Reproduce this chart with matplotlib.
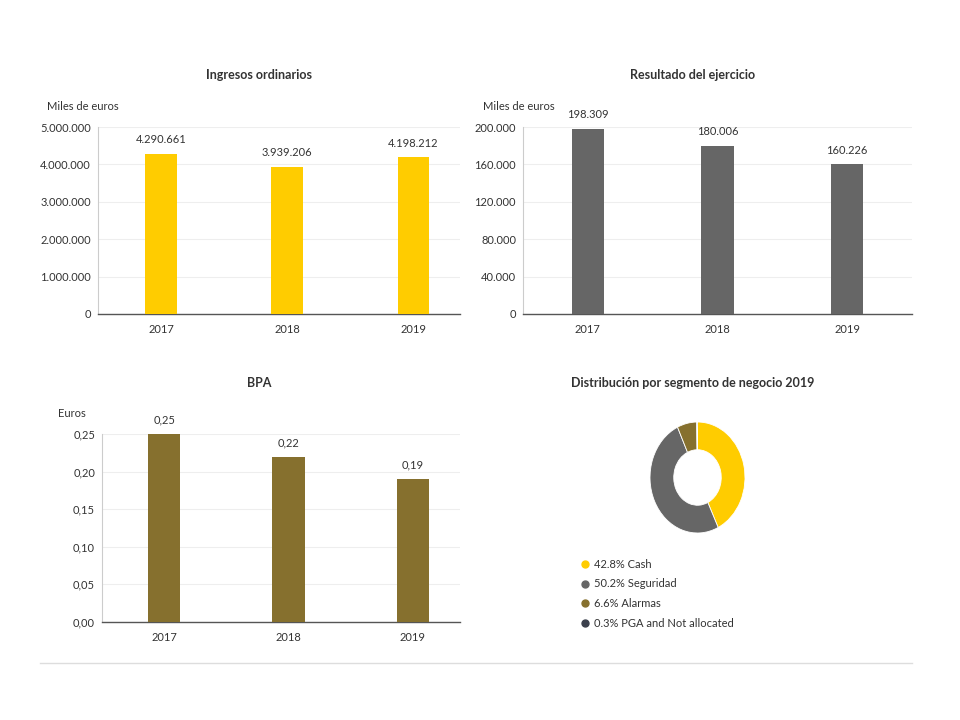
import matplotlib.pyplot as plt
import numpy as np

plt.rcParams['font.family'] = ['Lato', 'DejaVu Sans']

years = ['2017', '2018', '2019']
ingresos = [4290661, 3939206, 4198212]
resultado = [198309, 180006, 160226]
bpa = [0.25, 0.22, 0.19]

seg_names = ['Cash', 'Seguridad', 'Alarmas', 'PGA and Not allocated']
seg_share = [42.8, 50.2, 6.6, 0.3]

yellow = '#ffcc00'
grey = '#666666'
olive = '#86702e'
dark = '#3b404c'
txt = '#333333'

W, H = 960, 720
fig = plt.figure(figsize=(9.6, 7.2), dpi=100)


def px_axes(x0, y0, x1, y1):
    # pixel box (top-left origin) -> figure axes
    return fig.add_axes([x0 / W, 1 - y1 / H, (x1 - x0) / W, (y1 - y0) / H])


def fmt_thousands(v):
    return f'{int(round(v)):,}'.replace(',', '.')


def bar_panel(box, values, color, ticks, xlim, labels, tick_fmt, width):
    ax = px_axes(*box)
    x = np.arange(len(values))
    ax.bar(x, values, width=width, color=color, zorder=3)
    ax.set_xlim(*xlim)
    ax.set_ylim(ticks[0], ticks[-1])
    ax.set_yticks(ticks)
    ax.set_yticklabels([tick_fmt(t) for t in ticks])
    ax.set_xticks(x)
    ax.set_xticklabels(years)
    ax.tick_params(length=0, labelsize=8, colors=txt, pad=7)
    ax.tick_params(axis='y', pad=5)
    ax.grid(axis='y', color='#eeeeee', linewidth=0.8, zorder=0)
    for s in ['top', 'right']:
        ax.spines[s].set_visible(False)
    ax.spines['left'].set_color('#cccccc')
    ax.spines['left'].set_linewidth(0.8)
    ax.spines['bottom'].set_color('#555555')
    ax.spines['bottom'].set_linewidth(1.0)
    for xi, v, lab in zip(x, values, labels):
        ax.annotate(lab, (xi, v), xytext=(0, 6), textcoords='offset points',
                    ha='center', va='bottom', fontsize=8, color=txt)
    return ax


bar_panel((98, 127, 460, 314), ingresos, yellow,
          [0, 1000000, 2000000, 3000000, 4000000, 5000000], (-0.5, 2.37),
          [fmt_thousands(v) for v in ingresos], fmt_thousands, 0.25)
bar_panel((523, 127, 912, 314), resultado, grey,
          [0, 40000, 80000, 120000, 160000, 200000], (-0.5, 2.5),
          [fmt_thousands(v) for v in resultado], fmt_thousands, 0.25)
bar_panel((102, 434, 460, 622), bpa, olive,
          [0, 0.05, 0.10, 0.15, 0.20, 0.25], (-0.5, 2.38),
          [f'{v:.2f}'.replace('.', ',') for v in bpa],
          lambda t: f'{t:.2f}'.replace('.', ','), 0.26)

# titles and unit labels
def ftext(x, y, s, **kw):
    fig.text(x / W, 1 - y / H, s, color=txt, **kw)


ftext(259, 75, 'Ingresos ordinarios', ha='center', va='center', fontsize=9, fontweight='bold')
ftext(693, 75, 'Resultado del ejercicio', ha='center', va='center', fontsize=9, fontweight='bold')
ftext(259, 383, 'BPA', ha='center', va='center', fontsize=9, fontweight='bold')
ftext(693, 383, 'Distribución por segmento de negocio 2019', ha='center', va='center',
      fontsize=9, fontweight='bold')
ftext(47, 107, 'Miles de euros', ha='left', va='center', fontsize=8)
ftext(483, 107, 'Miles de euros', ha='left', va='center', fontsize=8)
ftext(58, 414, 'Euros', ha='left', va='center', fontsize=8)

# donut (slightly stretched vertically, as in the reference)
seg_colors = [yellow, grey, olive, dark]
pax = px_axes(650, 422, 745, 533)
pax.pie(seg_share, colors=seg_colors, startangle=90, counterclock=False, radius=1,
        wedgeprops=dict(width=0.5, edgecolor='white', linewidth=0.6))
pax.set_aspect('auto')
pax.set_xlim(-1, 1)
pax.set_ylim(-1, 1)

# legend
for i, (name, share, c) in enumerate(zip(seg_names, seg_share, seg_colors)):
    yy = 564 + i * 19.7
    fig.lines.append(plt.Line2D([585 / W], [1 - yy / H], marker='o', markersize=5,
                                color=c, transform=fig.transFigure))
    ftext(594, yy, f'{share}% {name}', ha='left', va='center', fontsize=8)

# bottom separator
fig.lines.append(plt.Line2D([40 / W, 912 / W], [1 - 663 / H, 1 - 663 / H],
                            color='#dddddd', linewidth=1, transform=fig.transFigure))

fig.savefig('out.png', dpi=100)
